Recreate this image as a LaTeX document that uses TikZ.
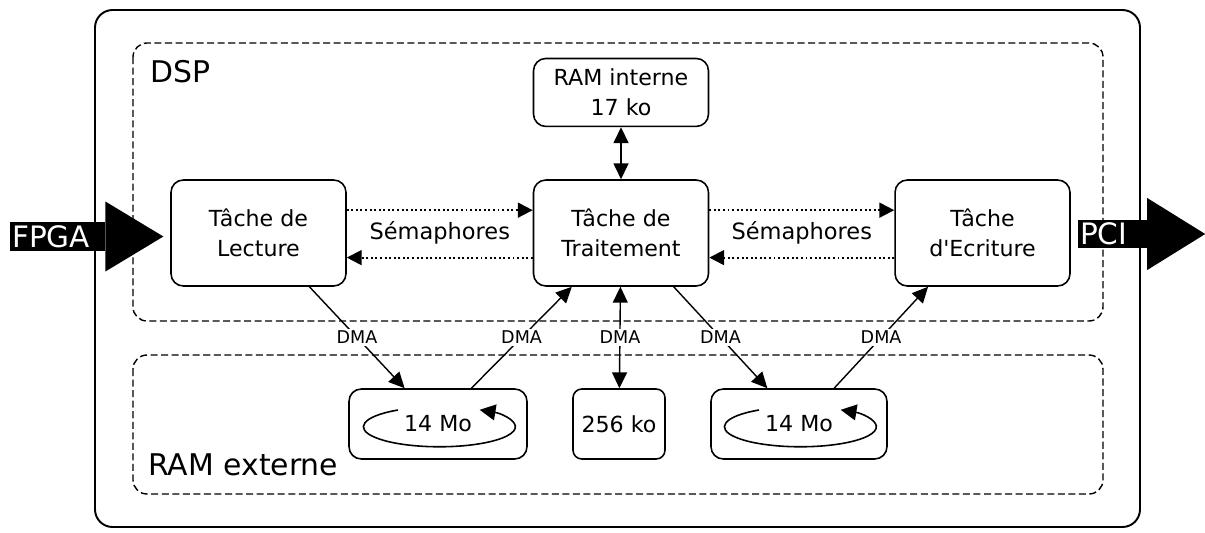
\documentclass[tikz,border=0pt]{standalone}
\usepackage{fontspec}
\setmainfont{DejaVu Sans}
\usepackage{tikz}
\usetikzlibrary{arrows.meta,positioning,calc}
\newcommand{\boxfont}{\fontsize{12.6}{17}\selectfont}
\newcommand{\dmafont}{\fontsize{10}{11}\selectfont}
\newcommand{\zonefont}{\fontsize{17}{20}\selectfont}
\newcommand{\iofont}{\fontsize{16.8}{19}\selectfont}
\tikzset{
    taskbox/.style={draw, line width=0.9pt, rounded corners=7pt, align=center, font=\boxfont, minimum width=3.5cm, minimum height=2.12cm, inner sep=2pt},
    membox/.style={taskbox, minimum height=1.4cm},
    zonebox/.style={draw, line width=0.8pt, dash pattern=on 4pt off 2pt, rounded corners=8pt},
    zonelabel/.style={font=\zonefont, anchor=west, inner sep=0pt},
    iolabel/.style={fill=black, text=white, font=\iofont, inner sep=1pt, anchor=west, minimum height=16.4pt, align=left},
    semarrow/.style={-{Triangle[length=8.5pt,width=8.5pt]}, line width=1.1pt, dash pattern=on 1.1pt off 1.5pt},
    semlabel/.style={font=\fontsize{12.8}{15}\selectfont, inner sep=1pt},
    dmaarrow/.style={-{Triangle[length=9pt,width=8.5pt]}, line width=0.8pt},
    dmabiarrow/.style={{Triangle[length=9pt,width=8.5pt]}-{Triangle[length=9pt,width=8.5pt]}, line width=0.8pt},
    dmalabel/.style={font=\dmafont, fill=white, inner sep=1pt, pos=0.5},
    looparrow/.style={-{Triangle[length=9pt,width=9pt]}, line width=0.9pt}
}
\begin{document}
\begin{tikzpicture}[x=0.02cm, y=-0.02cm]
    \useasboundingbox (0,0) rectangle (1205,532);
    % carte
    \draw[line width=1.1pt, rounded corners=10pt] (95,10) rectangle (1140,527);
    \draw[zonebox] (133,43) rectangle (1103,321);
    \draw[zonebox] (133,355) rectangle (1103,494);
    \node[zonelabel] (dsp) at (150,72) {DSP};
    \node[zonelabel] (ramlbl) at (148,465) {RAM externe};

    % taches du DSP
    \node[taskbox] (lect) at (258.5,233) {Tâche de\\Lecture};
    \node[taskbox, right=3.72cm of lect] (trait) {Tâche de\\Traitement};
    \node[taskbox, right=3.7cm of trait] (ecri) {Tâche\\d\textquotesingle Ecriture};
    \node[taskbox, minimum height=1.36cm, above=1.04cm of trait] (ramint) {RAM interne\\17 ko};

    % memoires externes
    \node[membox, minimum width=3.56cm] (bufin) at (438,424) {14 Mo};
    \node[membox, minimum width=1.84cm, rounded corners=5pt] (ramext) at (619,424) {256 ko};
    \node[membox, minimum width=3.52cm] (bufout) at (799,424) {14 Mo};
    \draw[looparrow] ([shift={(-40,-14)}]bufin.center) arc[start angle=237, end angle=-58, x radius=76, y radius=20];
    \draw[looparrow] ([shift={(-40,-14)}]bufout.center) arc[start angle=237, end angle=-58, x radius=76, y radius=20];

    % semaphores
    \draw[semarrow] ([yshift=13pt]lect.east) -- ([yshift=13pt]trait.west);
    \draw[semarrow] ([yshift=-14pt]trait.west) -- ([yshift=-14pt]lect.east);
    \draw[semarrow] ([yshift=13pt]trait.east) -- ([yshift=13pt]ecri.west);
    \draw[semarrow] ([yshift=-14pt]ecri.west) -- ([yshift=-14pt]trait.east);
    \node[semlabel] (sem1) at ($(lect)!0.5!(trait)$) {Sémaphores};
    \node[semlabel] (sem2) at ($(trait)!0.5!(ecri)$) {Sémaphores};

    \draw[dmabiarrow] (ramint) -- (trait);

    % transferts DMA
    \draw[dmaarrow] ([xshift=29pt]lect.south) -- node[dmalabel] {DMA} ([xshift=-19pt]bufin.north);
    \draw[dmaarrow] ([xshift=19pt]bufin.north) -- node[dmalabel] {DMA} ([xshift=-28pt]trait.south);
    \draw[dmabiarrow] (trait) -- node[dmalabel] {DMA} (ramext);
    \draw[dmaarrow] ([xshift=30pt]trait.south) -- node[dmalabel] {DMA} ([xshift=-18pt]bufout.north);
    \draw[dmaarrow] ([xshift=20pt]bufout.north) -- node[dmalabel] {DMA} ([xshift=-31pt]ecri.south);

    % entree / sortie
    \node[iolabel, text width=51.9pt] (fpga) at (10,236.5) {FPGA};
    \fill (fpga.east) ++(0,-35) -- ++(58,35) -- ++(-58,35) -- cycle;
    \node[iolabel, text width=37pt] (pci) at (1078,234) {PCI};
    \fill (pci.east) ++(0,-36) -- ++(58,36) -- ++(-58,36) -- cycle;
\end{tikzpicture}
\end{document}
